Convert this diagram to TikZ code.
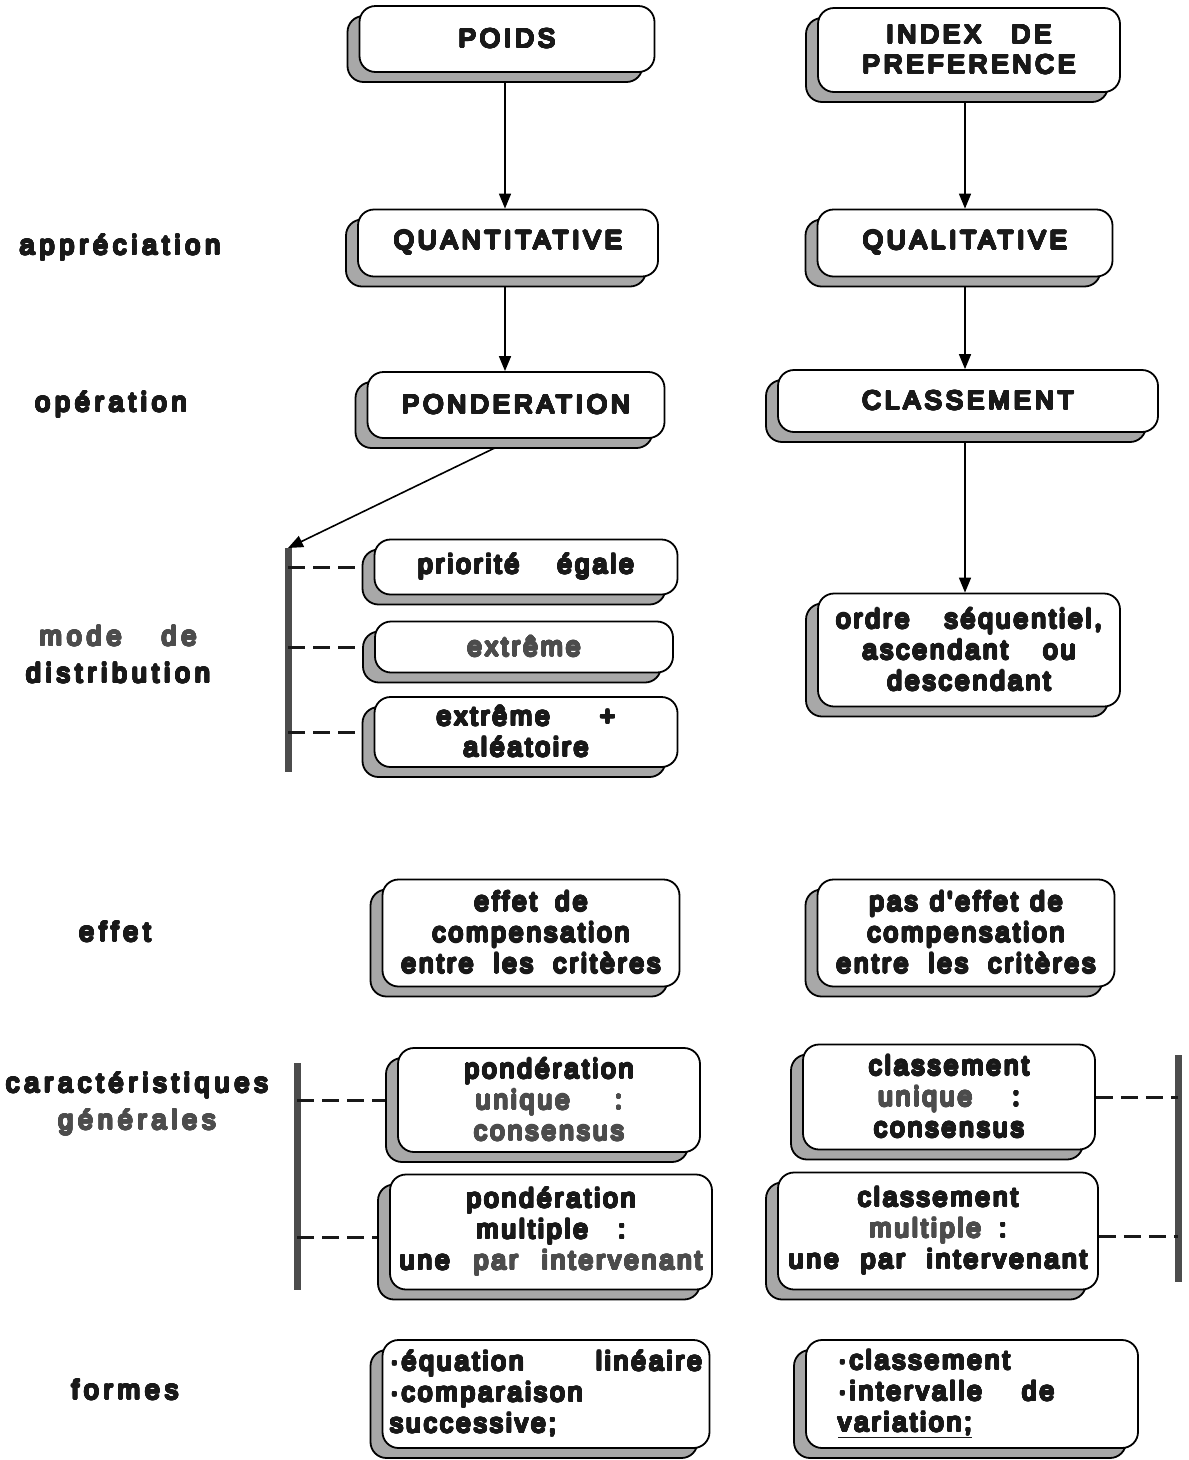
\documentclass[tikz,border=0pt]{standalone}
\usepackage{fontspec}
\usepackage{contour}
\setmainfont{Liberation Sans}
\newfontfamily\capfont{Liberation Sans}[LetterSpace=15]
\newfontfamily\lowfont{Liberation Sans}[LetterSpace=11]
\newfontfamily\labfont{Liberation Sans}[LetterSpace=18]
\usetikzlibrary{arrows.meta,shadows,backgrounds,calc}
\definecolor{shade}{gray}{0.66}
\definecolor{ink}{gray}{0.1}
\definecolor{inkg}{gray}{0.3}
\definecolor{barc}{gray}{0.3}
\contourlength{1.1pt}
\contournumber{24}
\newcommand\hb[1]{\contour{ink}{#1}}
\newcommand\hg[1]{{\color{inkg}\contour{inkg}{#1}}}
\begin{document}
\begin{tikzpicture}[x=1pt,y=-1pt,
  bx/.style={draw=black, line width=1.8pt, rounded corners=16pt, fill=white,
    align=center, inner sep=2pt, text=ink,
    general shadow={shadow xshift=-12pt, shadow yshift=-10pt, fill=shade, draw=black, line width=1.8pt}},
  capbox/.style={bx, font=\capfont\fontsize{26}{30}\selectfont},
  lowbox/.style={bx, font=\lowfont\fontsize{26.5}{31}\selectfont},
  lab/.style={font=\labfont\fontsize{27}{37}\selectfont, text=ink, align=center},
  arr/.style={line width=1.6pt, -{Triangle[length=15pt,width=12pt]}},
  dashcon/.style={line width=3pt, dash pattern=on 17pt off 8pt, draw=ink},
  bar/.style={line width=7pt, draw=barc}]
\useasboundingbox (0,0) rectangle (1189,1460);

% top boxes
\node[capbox, minimum width=295pt, minimum height=66pt] (poids) at (507,39) {\hb{POIDS}};
\node[capbox, minimum width=302pt, minimum height=84pt] (index) at (969,50) {\hb{INDEX\hspace{30pt}DE}\\\hb{PREFERENCE}};
\node[capbox, minimum width=300pt, minimum height=67pt] (quant) at (508,243) {\hb{QUANTITATIVE}};
\node[capbox, minimum width=295pt, minimum height=67pt] (qual) at (965,243) {\hb{QUALITATIVE}};
\node[capbox, minimum width=297pt, minimum height=66pt] (pond) at (516,405) {\hb{PONDERATION}};
\node[capbox, minimum width=380pt, minimum height=62pt] (class) at (968,401) {\hb{CLASSEMENT}};

% distribution modes
\node[lowbox, minimum width=303pt, minimum height=55pt] (prio) at (526,567) {\hb{priorité\hspace{38pt}égale}};
\node[lowbox, minimum width=298pt, minimum height=51pt] (extr) at (524,647) {\hg{extrême}};
\node[lowbox, minimum width=303pt, minimum height=70pt] (extal) at (526,732) {\hb{extrême\hspace{50pt}+}\\\hb{aléatoire}};
\node[lowbox, minimum width=302pt, minimum height=113pt] (ordre) at (969,650) {\hb{ordre\hspace{35pt}séquentiel,}\\\hb{ascendant\hspace{35pt}ou}\\\hb{descendant}};

% effet
\node[lowbox, minimum width=297pt, minimum height=107pt] (effL) at (531,933) {\hb{effet\hspace{18pt}de}\\\hb{compensation}\\\hb{entre\hspace{20pt}les\hspace{20pt}critères}};
\node[lowbox, minimum width=297pt, minimum height=107pt] (effR) at (966,933) {\hb{pas\hspace{12pt}d'effet\hspace{12pt}de}\\\hb{compensation}\\\hb{entre\hspace{20pt}les\hspace{20pt}critères}};

% caracteristiques
\node[lowbox, minimum width=302pt, minimum height=104pt] (pu) at (549,1100) {\hb{pondération}\\\hg{unique\hspace{45pt}:}\\\hg{consensus}};
\node[lowbox, minimum width=322pt, minimum height=115pt] (pm) at (551,1232) {\hb{pondération}\\\hb{multiple\hspace{30pt}:}\\\hb{une}\hspace{24pt}\hg{par\hspace{24pt}intervenant}};
\node[lowbox, minimum width=292pt, minimum height=105pt] (cu) at (949,1097) {\hb{classement}\\\hg{unique}\hspace{40pt}\hb{:}\\\hb{consensus}};
\node[lowbox, minimum width=320pt, minimum height=117pt] (cm) at (938,1231) {\hb{classement}\\\hg{multiple}\hspace{18pt}\hb{:}\\\hb{une\hspace{22pt}par\hspace{22pt}intervenant}};

% formes
\node[lowbox, minimum width=327pt, minimum height=108pt, text width=312pt, align=left] (fl) at (546,1394) {\hb{·équation}\hfill\hb{linéaire}\\\hb{·comparaison}\\\hb{successive;}};
\node[lowbox, minimum width=332pt, minimum height=108pt, text width=308pt, align=left] (fr) at (972,1394) {\hspace*{20pt}\hb{·classement}\\\hspace*{20pt}\hb{·intervalle\hspace{40pt}de}\\\hspace*{20pt}\underline{\hb{variation;}}};

% left labels
\node[lab] (l1) at (120,248) {\hb{appréciation}};
\node[lab] (l2) at (111,405) {\hb{opération}};
\node[lab] (l3) at (118,655) {\hg{mode\hspace{40pt}de}\\\hb{distribution}};
\node[lab] (l4) at (115,932) {\hb{effet}};
\node[lab] (l5) at (137,1104) {\hb{caractéristiques}\\\hg{générales}};
\node[lab] (l6) at (125,1390) {\hb{formes}};

% bars
\coordinate (b1t) at (288,548); \coordinate (b1b) at (288,772);
\coordinate (b2t) at (297,1063); \coordinate (b2b) at (297,1290);
\coordinate (b3t) at (1178,1055); \coordinate (b3b) at (1178,1282);

\begin{pgfonlayer}{background}
\draw[arr] ([xshift=-2pt]poids.south) -- ([xshift=-2pt]poids.south |- quant.north);
\draw[arr] ([xshift=-4pt]index.south) -- ([xshift=-4pt]index.south |- qual.north);
\draw[arr] ([xshift=-3pt]quant.south) -- ([xshift=-3pt]quant.south |- pond.north);
\draw[arr] (qual.south) -- (qual.south |- class.north);
\draw[arr] ([xshift=-3pt]class.south) -- ([xshift=-3pt]class.south |- ordre.north);
\draw[arr] ([xshift=-19pt,yshift=-8pt]pond.south) -- (b1t);
\draw[bar] (b1t) -- (b1b);
\draw[bar] (b2t) -- (b2b);
\draw[bar] (b3t) -- (b3b);
\draw[dashcon] (prio.west -| b1t) -- (prio.west);
\draw[dashcon] (extr.west -| b1t) -- (extr.west);
\draw[dashcon] (extal.west -| b1t) -- (extal.west);
\draw[dashcon] (pu.west -| b2t) -- (pu.west);
\draw[dashcon] ([yshift=-5pt]pm.west -| b2t) -- ([yshift=-5pt]pm.west);
\draw[dashcon] (cu.east) -- (cu.east -| b3t);
\draw[dashcon] ([yshift=-5pt]cm.east) -- ([yshift=-5pt]cm.east -| b3t);
\end{pgfonlayer}
\end{tikzpicture}
\end{document}
